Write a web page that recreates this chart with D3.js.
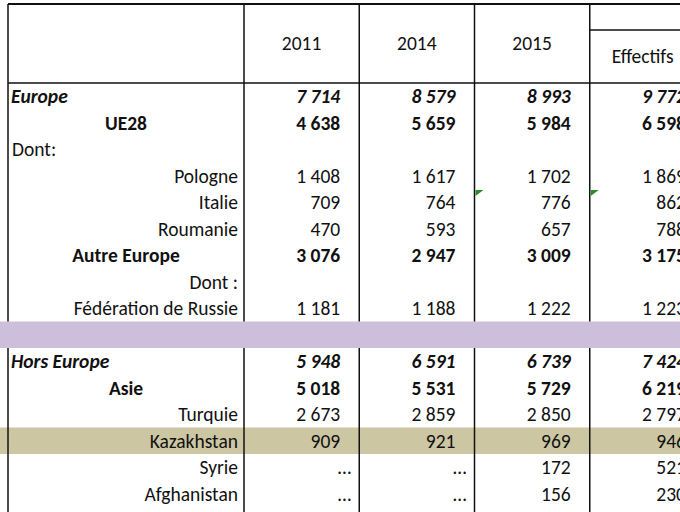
<!DOCTYPE html>
<html lang="fr">
<head>
<meta charset="UTF-8">
<script src="https://cdn.jsdelivr.net/npm/d3@7"></script>
<style>body{margin:0;background:#fff;overflow:hidden}</style>
</head>
<body>
<script>
  // tableau des effectifs
  const years = ['2011', '2014', '2015', 'Effectifs']
  const labels = ['Europe', 'UE28', 'Dont:', 'Pologne', 'Italie', 'Roumanie', 'Autre Europe', 'Dont :',
    'Fédération de Russie', '', 'Hors Europe', 'Asie', 'Turquie', 'Kazakhstan', 'Syrie', 'Afghanistan']
  const styles = ['bi', 'bc', 'l', 'r', 'r', 'r', 'bc', 'r', 'r', 'band', 'bi', 'bc', 'r', 'r', 'r', 'r']
  const v2011 = ['7 714', '4 638', '', '1 408', '709', '470', '3 076', '', '1 181', '', '5 948', '5 018', '2 673', '909', '…', '…']
  const v2014 = ['8 579', '5 659', '', '1 617', '764', '593', '2 947', '', '1 188', '', '6 591', '5 531', '2 859', '921', '…', '…']
  const v2015 = ['8 993', '5 984', '', '1 702', '776', '657', '3 009', '', '1 222', '', '6 739', '5 729', '2 850', '969', '172', '156']
  const vLast = ['9 772', '6 598', '', '1 869', '862', '788', '3 175', '', '1 223', '', '7 424', '6 219', '2 797', '946', '521', '230']
  const cols = [v2011, v2014, v2015, vLast]

  const W = 680, H = 512
  const svg = d3.select('body').append('svg').attr('width', W).attr('height', H)
    .style('font-family', 'Carlito, "Open Sans", sans-serif').style('font-size', '19.5px')

  const x = d3.scaleLinear().domain([0, 4]).range([244, 705])   // colonnes de chiffres
  const y = d3.scaleBand().domain(d3.range(labels.length)).range([83, 83 + 26.5 * labels.length])
  const left = 8

  // bandes de couleur
  labels.forEach((l, i) => {
    if (styles[i] === 'band') svg.append('rect').attr('x', 0).attr('y', y(i)).attr('width', W).attr('height', y.bandwidth()).attr('fill', '#cdbfdc')
    if (l === 'Kazakhstan') svg.append('rect').attr('x', 0).attr('y', y(i)).attr('width', W).attr('height', y.bandwidth()).attr('fill', '#cdc6a3')
  })

  // lignes
  const line = (x1, y1, x2, y2, w) => svg.append('line').attr('x1', x1).attr('y1', y1).attr('x2', x2).attr('y2', y2)
    .attr('stroke', '#111').attr('stroke-width', w || 1.5)
  const bandI = styles.indexOf('band')
  ;[left, ...d3.range(4).map(d => x(d))].forEach(xx => {
    line(xx, 4, xx, y(bandI))
    line(xx, y(bandI) + y.bandwidth(), xx, H)
  })
  line(left, 4, W, 4, 2)
  line(left, 83, W, 83, 1.5)
  line(x(3), 30, W, 30, 1.5)

  // en-tetes
  years.forEach((t, j) => {
    svg.append('text').attr('x', j < 3 ? (x(j) + x(j + 1)) / 2 : x(3) + 22).attr('y', j < 3 ? 50 : 63)
      .attr('text-anchor', j < 3 ? 'middle' : 'start').attr('fill', '#111').text(t)
  })

  // lignes du tableau
  labels.forEach((l, i) => {
    const s = styles[i]
    const cy = y(i) + y.bandwidth() / 2 + 7
    const t = svg.append('text').attr('y', cy).attr('fill', '#111').text(l)
    if (s === 'l') t.attr('x', left + 4)
    else if (s === 'bi') t.attr('x', left + 3).style('font-weight', 'bold').style('font-style', 'italic')
    else if (s === 'bc') t.attr('x', (left + x(0)) / 2).attr('text-anchor', 'middle').style('font-weight', 'bold')
    else t.attr('x', x(0) - 6).attr('text-anchor', 'end')
    cols.forEach((c, j) => {
      if (!c[i]) return
      const n = svg.append('text').attr('x', x(j + 1) - (c[i] === '…' ? 8 : 19)).attr('y', cy)
        .attr('text-anchor', 'end').attr('fill', '#111').text(c[i])
      if (s === 'bi') n.style('font-weight', 'bold').style('font-style', 'italic')
      if (s === 'bc') n.style('font-weight', 'bold')
    })
  })

  // petits triangles verts (commentaires)
  const iIt = labels.indexOf('Italie')
  ;[2, 3].forEach(j => {
    const x0 = x(j) + 1, y0 = y(iIt) + 1
    svg.append('path').attr('d', `M${x0},${y0}L${x0 + 8},${y0}L${x0},${y0 + 6}Z`).attr('fill', '#2e8b2e')
  })
</script>
</body>
</html>
